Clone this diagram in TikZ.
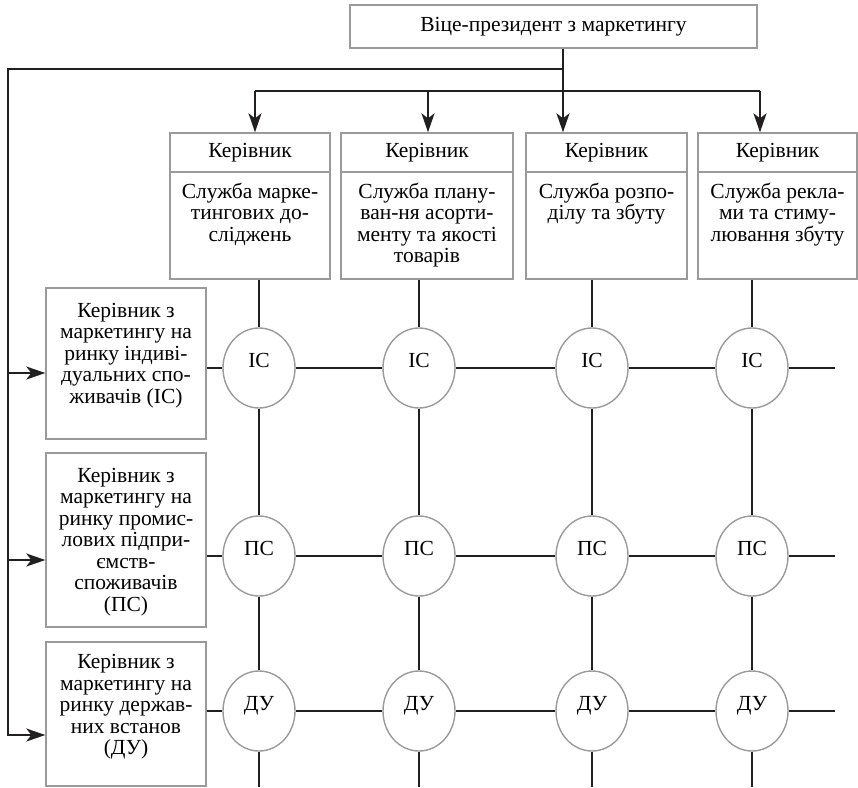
\documentclass[tikz,border=0pt]{standalone}
\usepackage{fontspec}
\setmainfont{Liberation Serif}
\usetikzlibrary{arrows.meta,shapes.geometric}

\definecolor{boxgray}{HTML}{9A9A9A}
\definecolor{ink}{HTML}{231F20}

% fixed-size box, text hung from the top
\newcommand{\inbox}[4]{\parbox[c][#1][t]{#2}{\centering\rule{0pt}{#3}#4}}

\begin{document}
\begin{tikzpicture}[
  x=1pt, y=-1pt,
  font=\fontsize{21.5}{21.5}\selectfont,
  box/.style={draw=boxgray, line width=1.4pt, inner sep=0pt},
  head/.style={box, minimum height=39pt},
  hub/.style={ellipse, draw=boxgray, line width=1.4pt, minimum width=72pt,
    minimum height=80pt, inner sep=0pt, text height=14pt, text depth=16pt},
  link/.style={draw=ink, line width=1.7pt},
  arr/.style={link, -{Stealth[length=19pt, width=13pt, inset=5pt]}}
]
\useasboundingbox (0,0) rectangle (858,787);

% top
\node[box, minimum width=407pt, minimum height=43pt] (vp) at (553.5,26.5) {Віце-президент з маркетингу};

% services
\node[head, minimum width=160pt] (h1) at (250,152.5) {Керівник};
\node[head, minimum width=172pt] (h2) at (427,152.5) {Керівник};
\node[head, minimum width=161pt] (h3) at (606.5,152.5) {Керівник};
\node[head, minimum width=159pt] (h4) at (777.5,152.5) {Керівник};
\node[box] (s1) at (250,225.5) {\inbox{107pt}{160pt}{26pt}{Служба марке-\\тингових до-\\сліджень}};
\node[box] (s2) at (427,225.5) {\inbox{107pt}{172pt}{26pt}{Служба плану-\\ван-ня асорти-\\менту та якості\\товарів}};
\node[box] (s3) at (606.5,225.5) {\inbox{107pt}{161pt}{26pt}{Служба розпо-\\ділу та збуту}};
\node[box] (s4) at (777.5,225.5) {\inbox{107pt}{159pt}{26pt}{Служба рекла-\\ми та стиму-\\лювання збуту}};

% markets
\node[box] (l1) at (126,363.5) {\inbox{151pt}{160pt}{29pt}{Керівник з\\маркетингу на\\ринку індиві-\\дуальних спо-\\живачів (ІС)}};
\node[box] (l2) at (126,540) {\inbox{174pt}{160pt}{29pt}{Керівник з\\маркетингу на\\ринку промис-\\лових підпри-\\ємств-\\споживачів\\(ПС)}};
\node[box] (l3) at (126,714) {\inbox{144pt}{160pt}{26.5pt}{Керівник з\\маркетингу на\\ринку держав-\\них встанов\\(ДУ)}};

% matrix
\foreach \r/\y/\t in {1/368/ІС, 2/556/ПС, 3/711/ДУ}
  \foreach \c/\x in {1/259, 2/419, 3/592, 4/752}
    \node[hub] (m\r\c) at (\x,\y) {\t};

\coordinate (bot) at (0,787);
\coordinate (rt) at (835,0);
\foreach \c in {1,...,4} {
  \draw[link] (m1\c |- s\c.south) -- (m1\c);
  \draw[link] (m1\c) -- (m2\c);
  \draw[link] (m2\c) -- (m3\c);
  \draw[link] (m3\c) -- (m3\c |- bot);
}
\foreach \r in {1,2,3} {
  \draw[link] (l\r.east |- m\r1) -- (m\r1);
  \draw[link] (m\r1) -- (m\r2);
  \draw[link] (m\r2) -- (m\r3);
  \draw[link] (m\r3) -- (m\r4);
  \draw[link] (m\r4) -- (m\r4 -| rt);
}

% from the vice-president
\coordinate (drop) at (563,0);
\coordinate (side) at (8,69);
\coordinate (d1) at (255,91);
\coordinate (d2) at (428,91);
\coordinate (d4) at (760,91);
\coordinate (k1) at (0,373);
\coordinate (k2) at (0,560);
\coordinate (k3) at (0,735);
\draw[arr] (vp.south -| drop) -- (h3.north -| drop);
\draw[link] (d1) -- (d4);
\draw[arr] (d1) -- (d1 |- h1.north);
\draw[arr] (d2) -- (d2 |- h2.north);
\draw[arr] (d4) -- (d4 |- h4.north);
\draw[arr] (drop |- side) -- (side) |- (l3.west |- k3);
\draw[arr] (side |- k1) -- (l1.west |- k1);
\draw[arr] (side |- k2) -- (l2.west |- k2);
\end{tikzpicture}
\end{document}
